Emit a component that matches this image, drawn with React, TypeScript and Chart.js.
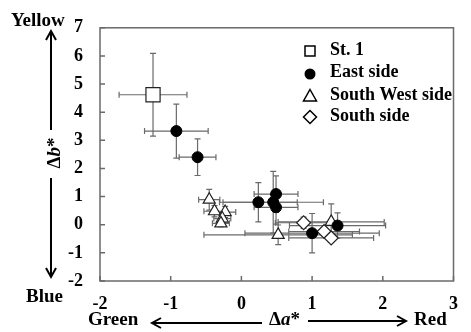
import React, { useEffect, useRef } from 'react';
import { Chart, registerables } from 'chart.js';
Chart.register(...registerables);

const xTicks = [-2, -1, 0, 1, 2, 3];
const yTicks = [-2, -1, 0, 1, 2, 3, 4, 5, 6, 7];
const seriesNames = ['St. 1', 'East side', 'South West side', 'South side'];

const st1X = [-1.25];
const st1Y = [4.62];
const st1Xerr = [0.48];
const st1Yerr = [1.47];

const eastX = [-0.92, -0.62, 0.24, 0.49, 0.45, 0.49, 1.0, 1.36];
const eastY = [3.33, 2.4, 0.8, 1.09, 0.8, 0.62, -0.3, -0.03];
const eastXerr = [0.45, 0.26, 0.55, 0.31, 0.71, 0.31, 0.95, 0.68];
const eastYerr = [0.96, 0.65, 0.7, 0.65, 1.1, 0.6, 0.7, 0.45];

const swX = [-0.455, -0.38, -0.23, -0.27, -0.29, 0.52, 1.27];
const swY = [0.89, 0.48, 0.45, 0.22, 0.05, -0.36, 0.1];
const swXerr = [0.15, 0.15, 0.15, 0.12, 0.12, 1.05, 0.75];
const swYerr = [0.37, 0.2, 0.2, 0.15, 0.12, 0.35, 0.64];

const sX = [0.88, 1.17, 1.27];
const sY = [0.07, -0.24, -0.47];
const sXerr = [0.4, 0.5, 0.6];
const sYerr = [0.2, 0.15, 0.15];

const FONT = '"Liberation Serif", "Times New Roman", serif';

function pts(xs: number[], ys: number[], xe: number[], ye: number[]) {
  return xs.map((x, i) => ({ x, y: ys[i], xerr: xe[i], yerr: ye[i] }));
}

const errorBarPlugin = {
  id: 'errorBars',
  beforeDatasetsDraw(chart: any) {
    const { ctx } = chart;
    const xs = chart.scales.x;
    const ys = chart.scales.y;
    ctx.save();
    ctx.strokeStyle = '#6a6a6a';
    ctx.lineWidth = 1.2;
    chart.data.datasets.forEach((ds: any) => {
      ds.data.forEach((p: any) => {
        const px = xs.getPixelForValue(p.x);
        const py = ys.getPixelForValue(p.y);
        const x0 = xs.getPixelForValue(p.x - p.xerr);
        const x1 = xs.getPixelForValue(p.x + p.xerr);
        const y0 = ys.getPixelForValue(p.y - p.yerr);
        const y1 = ys.getPixelForValue(p.y + p.yerr);
        const c = 3;
        ctx.beginPath();
        ctx.moveTo(x0, py); ctx.lineTo(x1, py);
        ctx.moveTo(x0, py - c); ctx.lineTo(x0, py + c);
        ctx.moveTo(x1, py - c); ctx.lineTo(x1, py + c);
        ctx.moveTo(px, y0); ctx.lineTo(px, y1);
        ctx.moveTo(px - c, y0); ctx.lineTo(px + c, y0);
        ctx.moveTo(px - c, y1); ctx.lineTo(px + c, y1);
        ctx.stroke();
      });
    });
    ctx.restore();
  },
};

function arrow(ctx: CanvasRenderingContext2D, x0: number, y0: number, x1: number, y1: number) {
  const ang = Math.atan2(y1 - y0, x1 - x0);
  const L = 9, W = 5;
  ctx.beginPath();
  ctx.moveTo(x0, y0);
  ctx.lineTo(x1, y1);
  ctx.stroke();
  ctx.beginPath();
  ctx.moveTo(x1 - L * Math.cos(ang) + W * Math.sin(ang), y1 - L * Math.sin(ang) - W * Math.cos(ang));
  ctx.lineTo(x1, y1);
  ctx.lineTo(x1 - L * Math.cos(ang) - W * Math.sin(ang), y1 - L * Math.sin(ang) + W * Math.cos(ang));
  ctx.stroke();
}

const decorPlugin = {
  id: 'decor',
  afterDraw(chart: any) {
    const { ctx, chartArea: a } = chart;
    const xs = chart.scales.x;
    const ys = chart.scales.y;
    ctx.save();
    // frame
    ctx.strokeStyle = '#6a6a6a';
    ctx.lineWidth = 1.5;
    ctx.strokeRect(a.left, a.top, a.right - a.left, a.bottom - a.top);
    // inward ticks
    ctx.beginPath();
    yTicks.forEach((v) => {
      const py = ys.getPixelForValue(v);
      ctx.moveTo(a.left, py); ctx.lineTo(a.left + 5, py);
    });
    xTicks.forEach((v) => {
      const px = xs.getPixelForValue(v);
      ctx.moveTo(px, a.bottom); ctx.lineTo(px, a.bottom - 5);
    });
    ctx.stroke();

    // axis words
    const B = 'bold 19px ' + FONT;
    const BI = 'italic bold 19px ' + FONT;
    ctx.fillStyle = '#000';
    ctx.strokeStyle = '#000';
    ctx.font = B;
    ctx.textBaseline = 'middle';
    ctx.textAlign = 'left';
    ctx.fillText('Yellow', 11, 21);
    ctx.fillText('Blue', 26, 297);
    ctx.fillText('Green', 88, 320);
    ctx.fillText('Red', 414, 320);
    // Δa*
    let x = 269;
    ctx.fillText('Δ', x, 320); x += ctx.measureText('Δ').width;
    ctx.font = BI;
    ctx.fillText('a', x, 320); x += ctx.measureText('a').width;
    ctx.font = B;
    ctx.fillText('*', x, 320);
    // Δb* rotated
    ctx.save();
    ctx.translate(55, 153);
    ctx.rotate(-Math.PI / 2);
    const w1 = ctx.measureText('Δ').width;
    ctx.font = BI;
    const w2 = ctx.measureText('b').width;
    ctx.font = B;
    const w3 = ctx.measureText('*').width;
    let bx = -(w1 + w2 + w3) / 2;
    ctx.fillText('Δ', bx, 0); bx += w1;
    ctx.font = BI;
    ctx.fillText('b', bx, 0); bx += w2;
    ctx.font = B;
    ctx.fillText('*', bx, 0);
    ctx.restore();

    // arrows
    ctx.lineWidth = 2;
    arrow(ctx, 51, 130, 51, 31);
    arrow(ctx, 51, 178, 51, 277);
    arrow(ctx, 262, 323, 152, 323);
    arrow(ctx, 308, 321, 406, 321);

    // legend
    const lx = 310;
    const rows = [51, 74, 96, 117];
    ctx.lineWidth = 1.5;
    ctx.strokeStyle = '#000';
    ctx.fillStyle = '#fff';
    ctx.fillRect(lx - 5, rows[0] - 5, 10, 10);
    ctx.strokeRect(lx - 5, rows[0] - 5, 10, 10);
    ctx.fillStyle = '#000';
    ctx.beginPath(); ctx.arc(lx, rows[1], 5.5, 0, Math.PI * 2); ctx.fill();
    ctx.beginPath();
    ctx.moveTo(lx, rows[2] - 6.5); ctx.lineTo(lx + 6.5, rows[2] + 5); ctx.lineTo(lx - 6.5, rows[2] + 5); ctx.closePath();
    ctx.stroke();
    ctx.beginPath();
    ctx.moveTo(lx, rows[3] - 6.5); ctx.lineTo(lx + 6.5, rows[3]); ctx.lineTo(lx, rows[3] + 6.5); ctx.lineTo(lx - 6.5, rows[3]); ctx.closePath();
    ctx.stroke();
    ctx.fillStyle = '#000';
    ctx.font = 'bold 18px ' + FONT;
    ctx.textBaseline = 'alphabetic';
    const base = [55, 77, 100, 121];
    seriesNames.forEach((n, i) => ctx.fillText(n, 330, base[i]));
    ctx.restore();
  },
};

export default function App() {
  const ref = useRef<HTMLCanvasElement>(null);
  useEffect(() => {
    if (!ref.current) return;
    const tickFont = { family: FONT, size: 18, weight: 700 };
    const chart = new Chart(ref.current, {
      type: 'scatter',
      data: {
        datasets: [
          {
            label: seriesNames[0],
            data: pts(st1X, st1Y, st1Xerr, st1Yerr),
            pointStyle: 'rect',
            pointRadius: 10,
            backgroundColor: '#fff',
            borderColor: '#222',
            borderWidth: 1.2,
          },
          {
            label: seriesNames[1],
            data: pts(eastX, eastY, eastXerr, eastYerr),
            pointStyle: 'circle',
            pointRadius: 5.5,
            backgroundColor: '#000',
            borderColor: '#000',
            borderWidth: 1,
          },
          {
            label: seriesNames[2],
            data: pts(swX, swY, swXerr, swYerr),
            pointStyle: 'triangle',
            pointRadius: 7,
            backgroundColor: '#fff',
            borderColor: '#222',
            borderWidth: 1.2,
          },
          {
            label: seriesNames[3],
            data: pts(sX, sY, sXerr, sYerr),
            pointStyle: 'rectRot',
            pointRadius: 7,
            backgroundColor: '#fff',
            borderColor: '#222',
            borderWidth: 1.2,
          },
        ] as any,
      },
      options: {
        animation: false,
        responsive: false,
        devicePixelRatio: 1,
        layout: { padding: { top: 22, right: 1, left: 0, bottom: 0 } },
        plugins: { legend: { display: false }, tooltip: { enabled: false } },
        scales: {
          x: {
            type: 'linear',
            min: -2,
            max: 3,
            afterFit: (s: any) => { s.height = 51; },
            afterBuildTicks: (s: any) => { s.ticks = xTicks.map((v) => ({ value: v })); },
            grid: { display: false, drawTicks: false },
            border: { display: false },
            ticks: { color: '#000', padding: 13, font: tickFont },
          },
          y: {
            type: 'linear',
            min: -2,
            max: 7,
            afterFit: (s: any) => { s.width = 100; },
            afterBuildTicks: (s: any) => { s.ticks = yTicks.map((v) => ({ value: v })); },
            grid: { display: false, drawTicks: false },
            border: { display: false },
            ticks: { color: '#000', padding: 17, font: tickFont },
          },
        },
      } as any,
      plugins: [errorBarPlugin, decorPlugin],
    });
    return () => chart.destroy();
  }, []);
  return (
    <div style={{ position: 'fixed', left: 0, top: 0, width: 471, height: 332, background: '#fff' }}>
      <canvas ref={ref} width={471} height={332} style={{ width: 471, height: 332 }} />
    </div>
  );
}
